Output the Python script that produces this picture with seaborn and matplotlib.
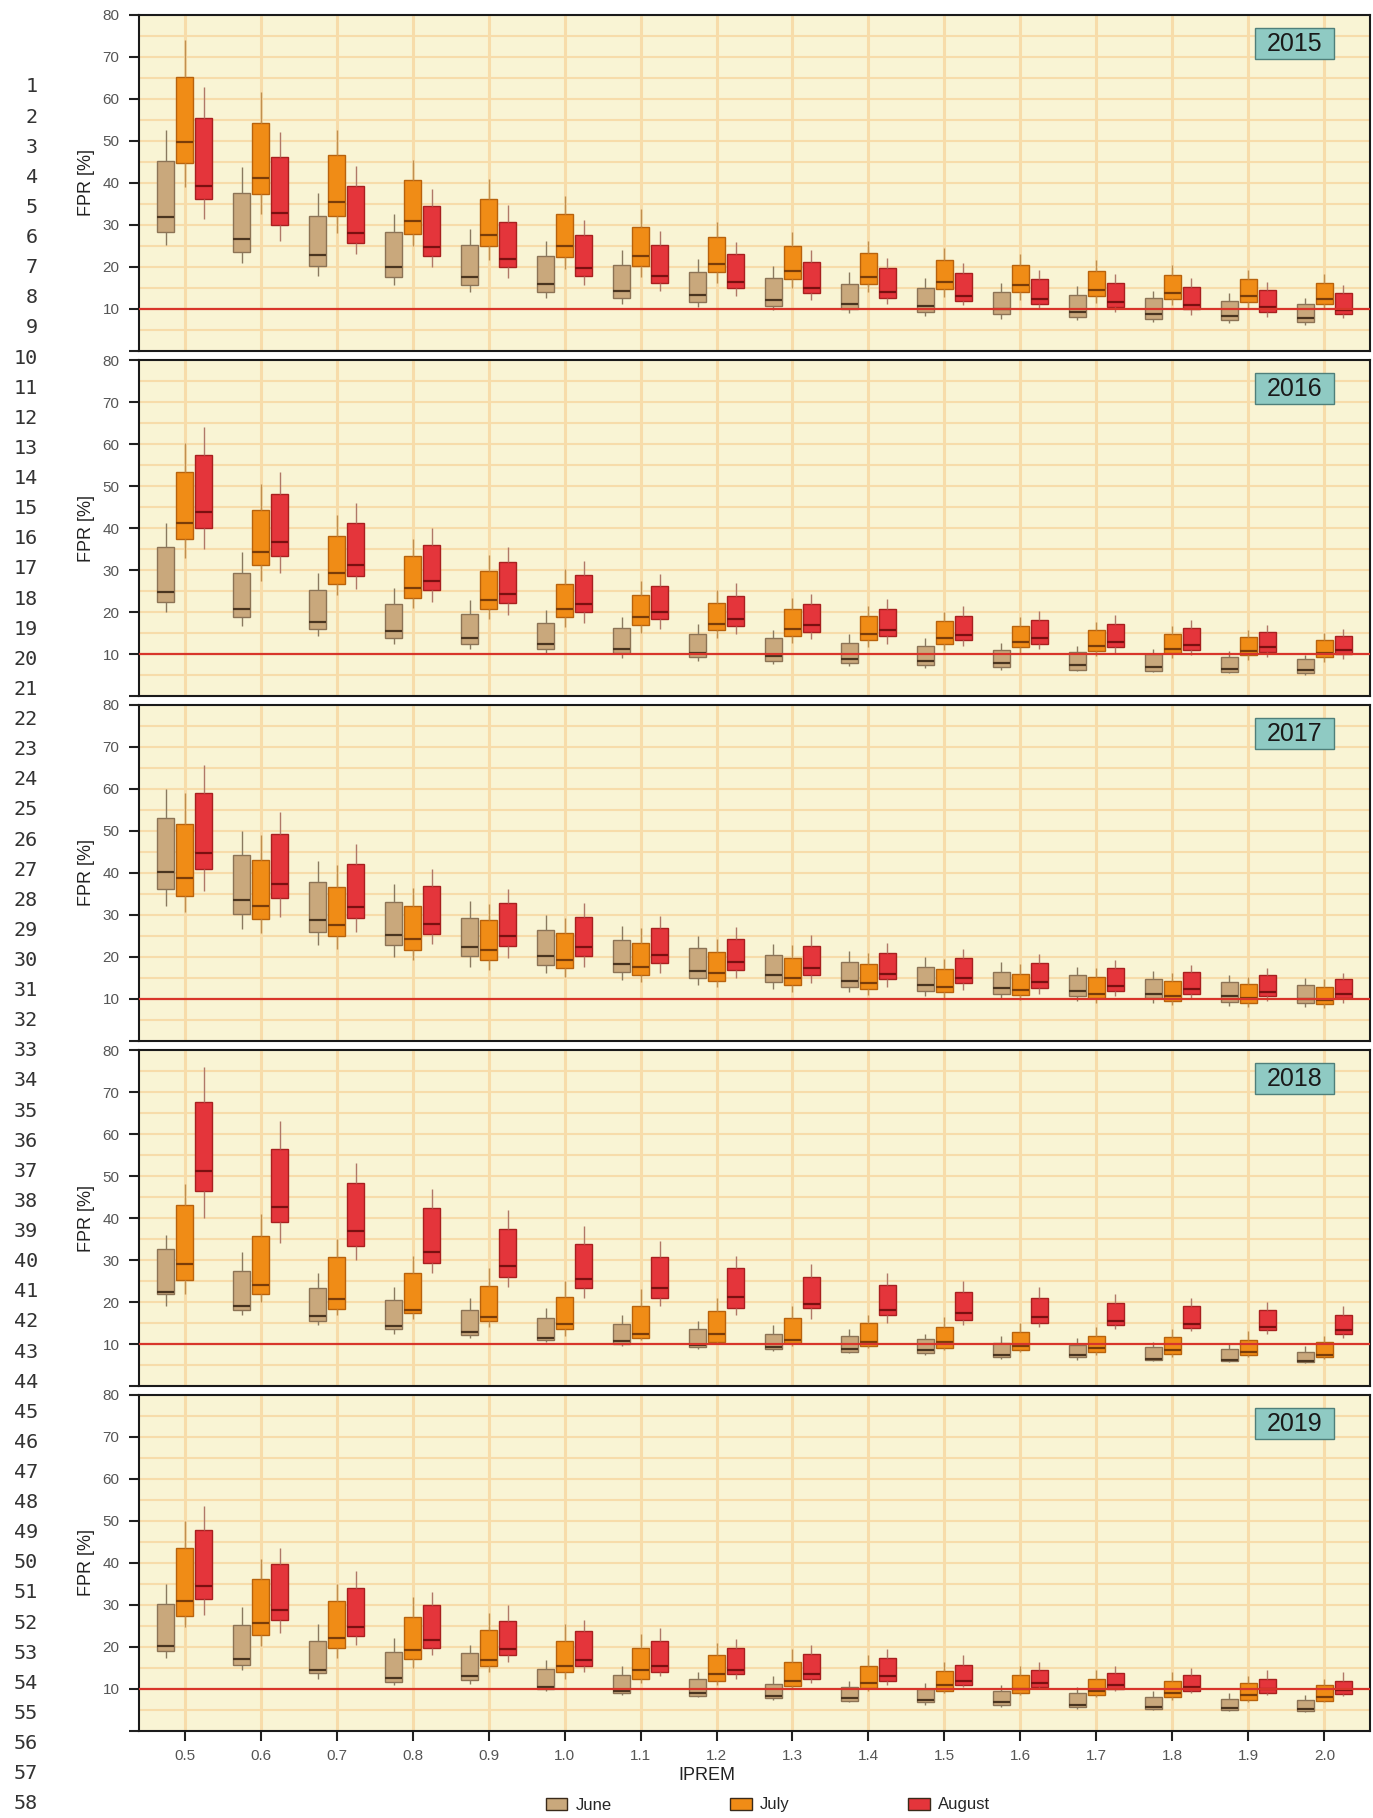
import numpy as np
import pandas as pd
import matplotlib.pyplot as plt
import seaborn as sns
from matplotlib.patches import Patch, Rectangle

ipr = ['0.5', '0.6', '0.7', '0.8', '0.9', '1.0', '1.1', '1.2',
       '1.3', '1.4', '1.5', '1.6', '1.7', '1.8', '1.9', '2.0']
years = ['2015', '2016', '2017', '2018', '2019']
months = ['June', 'July', 'August']

# each entry: (low whisker, q1, median, q3, high whisker) for one IPREM value
jun_2015 = [(25.2, 28.4, 32.0, 45.2, 52.6), (21.0, 23.6, 26.6, 37.5, 43.7), (17.9, 20.2, 22.8, 32.2, 37.5),
            (15.6, 17.7, 19.9, 28.3, 32.6), (14.0, 15.6, 17.7, 25.2, 29.0), (12.5, 14.1, 16.0, 22.5, 26.2),
            (11.3, 12.7, 14.4, 20.4, 24.0), (10.4, 11.7, 13.3, 18.8, 21.8), (9.7, 10.8, 12.2, 17.3, 20.2),
            (9.0, 9.9, 11.3, 16.0, 18.7), (8.3, 9.4, 10.6, 14.9, 17.4), (7.6, 8.7, 9.9, 14.0, 16.3),
            (7.3, 8.2, 9.3, 13.3, 15.4), (7.0, 7.7, 8.8, 12.5, 14.4), (6.6, 7.4, 8.3, 11.9, 13.7),
            (6.3, 7.0, 7.9, 11.1, 12.7)]
jul_2015 = [(39.1, 44.8, 49.8, 65.2, 74.0), (32.6, 37.3, 41.3, 54.3, 61.7), (28.0, 32.1, 35.5, 46.6, 52.5),
            (25.0, 27.9, 31.0, 40.7, 45.5), (21.7, 24.9, 27.5, 36.1, 41.0), (19.5, 22.3, 24.9, 32.5, 37.0),
            (17.7, 20.3, 22.6, 29.5, 33.7), (16.3, 18.7, 20.7, 27.2, 30.8), (14.9, 17.1, 19.0, 25.0, 28.4),
            (14.0, 15.9, 17.7, 23.3, 26.3), (12.9, 14.8, 16.5, 21.6, 24.5), (12.1, 14.0, 15.6, 20.4, 23.1),
            (11.5, 13.1, 14.6, 19.0, 21.6), (11.0, 12.3, 13.8, 18.1, 20.5), (10.3, 11.7, 13.0, 17.1, 19.4),
            (10.0, 11.1, 12.4, 16.1, 18.4)]
aug_2015 = [(31.4, 36.1, 39.4, 55.4, 62.8), (26.2, 30.0, 32.9, 46.2, 52.2), (23.0, 25.6, 28.2, 39.4, 44.0),
            (20.0, 22.5, 24.7, 34.6, 38.5), (17.3, 20.0, 22.0, 30.7, 34.7), (15.7, 17.9, 19.7, 27.6, 31.2),
            (14.3, 16.3, 17.9, 25.2, 28.5), (13.2, 14.9, 16.4, 23.0, 26.0), (12.1, 13.9, 15.1, 21.2, 24.0),
            (11.1, 12.7, 14.1, 19.7, 22.2), (11.0, 11.9, 13.1, 18.5, 20.9), (10.2, 11.1, 12.4, 17.2, 19.3),
            (9.4, 10.5, 11.7, 16.2, 18.3), (8.6, 9.9, 11.0, 15.3, 17.3), (8.2, 9.4, 10.4, 14.5, 16.5),
            (7.8, 8.9, 9.8, 13.7, 15.6)]

jun_2016 = [(19.9, 22.3, 24.8, 35.5, 41.1), (16.7, 18.7, 20.8, 29.4, 34.3), (14.3, 15.9, 17.7, 25.3, 29.2),
            (12.5, 13.9, 15.5, 22.0, 25.6), (11.1, 12.3, 13.8, 19.6, 22.9), (10.2, 11.1, 12.5, 17.5, 20.5),
            (9.1, 10.2, 11.3, 16.1, 18.7), (8.4, 9.2, 10.3, 14.7, 17.1), (7.7, 8.4, 9.5, 13.7, 15.7),
            (7.1, 7.9, 8.9, 12.7, 14.7), (6.6, 7.4, 8.3, 11.9, 13.7), (6.3, 7.0, 7.8, 11.0, 12.7),
            (5.9, 6.3, 7.4, 10.4, 11.9), (5.6, 6.0, 6.8, 10.0, 11.3), (5.4, 5.8, 6.5, 9.4, 10.6),
            (5.0, 5.4, 6.1, 8.9, 9.8)]
jul_2016 = [(32.8, 37.3, 41.3, 53.4, 60.2), (27.5, 31.1, 34.2, 44.4, 50.5), (24.0, 26.7, 29.4, 38.0, 43.0),
            (21.0, 23.4, 25.7, 33.3, 37.5), (18.4, 20.7, 22.9, 29.7, 33.6), (16.5, 18.7, 20.6, 26.6, 30.2),
            (14.9, 17.0, 18.7, 24.1, 27.5), (13.8, 15.6, 17.1, 22.2, 25.2), (12.7, 14.3, 15.9, 20.6, 23.3),
            (11.7, 13.3, 14.8, 19.1, 21.4), (11.0, 12.3, 13.7, 17.9, 20.1), (10.3, 11.6, 12.8, 16.7, 18.9),
            (9.6, 10.8, 12.0, 15.6, 17.7), (9.0, 10.2, 11.3, 14.8, 16.7), (8.6, 9.7, 10.8, 14.0, 15.7),
            (8.2, 9.2, 10.2, 13.3, 14.9)]
aug_2016 = [(35.0, 40.1, 43.8, 57.5, 64.0), (29.2, 33.4, 36.6, 48.0, 53.3), (25.5, 28.6, 31.3, 41.1, 46.0),
            (22.5, 25.2, 27.5, 36.0, 40.0), (19.4, 22.2, 24.3, 32.0, 35.4), (17.5, 20.1, 21.9, 28.7, 32.1),
            (15.9, 18.3, 19.9, 26.1, 29.0), (14.8, 16.7, 18.3, 23.9, 27.0), (13.5, 15.3, 16.8, 22.0, 24.4),
            (12.5, 14.2, 15.6, 20.6, 23.0), (11.9, 13.3, 14.5, 19.1, 21.4), (11.1, 12.5, 13.7, 18.1, 20.2),
            (10.3, 11.7, 12.9, 17.1, 19.3), (9.8, 10.9, 12.1, 16.1, 18.1), (9.4, 10.5, 11.6, 15.2, 16.9),
            (8.7, 10.0, 11.0, 14.3, 16.0)]

jun_2017 = [(32.1, 36.3, 40.3, 53.0, 60.0), (26.7, 30.2, 33.5, 44.2, 50.0), (22.9, 26.0, 28.7, 37.8, 42.9),
            (20.1, 22.8, 25.2, 33.1, 37.5), (17.7, 20.2, 22.4, 29.4, 33.3), (16.1, 18.2, 20.2, 26.4, 30.0),
            (14.6, 16.5, 18.3, 24.1, 27.3), (13.3, 15.1, 16.7, 22.1, 25.0), (12.3, 14.0, 15.6, 20.5, 23.0),
            (11.6, 12.9, 14.4, 18.9, 21.4), (10.7, 12.0, 13.4, 17.6, 19.9), (10.2, 11.3, 12.6, 16.5, 18.7),
            (9.5, 10.7, 11.9, 15.6, 17.7), (9.0, 10.2, 11.2, 14.8, 16.7), (8.3, 9.4, 10.6, 14.0, 15.7),
            (8.0, 9.0, 10.1, 13.3, 14.9)]
jul_2017 = [(30.8, 34.6, 38.7, 51.6, 59.0), (25.6, 29.0, 32.2, 43.0, 49.0), (22.0, 24.9, 27.7, 36.7, 42.0),
            (19.2, 21.7, 24.2, 32.1, 36.5), (16.9, 19.2, 21.6, 28.7, 32.6), (15.3, 17.4, 19.4, 25.7, 29.4),
            (14.0, 15.7, 17.6, 23.3, 26.8), (12.8, 14.4, 16.2, 21.3, 24.2), (11.7, 13.3, 14.9, 19.7, 22.9),
            (11.0, 12.4, 13.8, 18.3, 21.0), (10.3, 11.6, 12.8, 17.1, 19.5), (9.8, 10.9, 12.1, 16.0, 18.3),
            (9.1, 10.2, 11.3, 15.2, 17.3), (8.6, 9.6, 10.8, 14.3, 16.3), (8.0, 9.1, 10.2, 13.5, 15.3),
            (7.8, 8.7, 9.7, 12.9, 14.7)]
aug_2017 = [(35.7, 40.9, 44.7, 59.0, 65.6), (29.6, 34.0, 37.3, 49.2, 54.6), (26.0, 29.2, 32.0, 42.1, 47.0),
            (23.0, 25.5, 27.9, 36.9, 41.0), (19.8, 22.6, 24.9, 32.8, 36.3), (17.7, 20.3, 22.4, 29.5, 32.9),
            (16.1, 18.5, 20.4, 26.8, 29.8), (15.0, 16.9, 18.7, 24.4, 27.2), (13.7, 15.7, 17.3, 22.7, 25.2),
            (12.9, 14.7, 16.0, 21.0, 23.3), (12.1, 13.7, 14.9, 19.7, 21.8), (11.3, 12.7, 14.1, 18.5, 20.6),
            (10.6, 11.9, 13.2, 17.3, 19.3), (10.2, 11.3, 12.5, 16.4, 18.1), (9.5, 10.7, 11.7, 15.6, 17.3),
            (9.0, 10.2, 11.3, 14.8, 16.3)]

jun_2018 = [(19.0, 22.0, 22.5, 32.7, 36.0), (17.0, 18.2, 19.0, 27.3, 32.0), (14.5, 15.5, 16.7, 23.3, 27.0),
            (12.5, 13.5, 14.3, 20.5, 23.5), (11.5, 12.2, 12.8, 18.0, 21.0), (10.5, 11.0, 11.5, 16.2, 18.5),
            (9.5, 10.0, 10.8, 14.7, 17.0), (8.8, 9.3, 9.8, 13.5, 15.5), (8.3, 8.7, 9.3, 12.5, 14.5),
            (7.8, 8.2, 8.8, 11.8, 13.5), (7.3, 7.8, 8.5, 11.2, 12.5), (6.5, 7.0, 7.5, 10.2, 12.0),
            (6.3, 6.8, 7.3, 9.8, 11.5), (6.0, 6.3, 6.5, 9.3, 10.5), (5.8, 6.0, 6.2, 8.8, 10.0),
            (5.5, 5.8, 6.0, 8.2, 9.5)]
jul_2018 = [(22.0, 25.3, 29.0, 43.0, 48.0), (20.0, 22.0, 24.0, 35.8, 41.0), (17.0, 18.3, 20.6, 30.7, 35.0),
            (16.0, 17.3, 18.2, 26.8, 31.0), (14.0, 15.5, 16.5, 23.8, 28.0), (12.0, 13.5, 14.7, 21.3, 25.0),
            (11.0, 11.5, 12.5, 19.0, 23.0), (10.0, 10.5, 12.3, 17.8, 21.0), (9.5, 10.3, 11.0, 16.2, 19.0),
            (9.0, 9.5, 10.5, 15.0, 17.0), (8.5, 9.0, 10.5, 14.0, 16.5), (8.0, 8.5, 9.5, 12.8, 15.0),
            (7.5, 8.0, 9.0, 12.0, 14.0), (7.0, 7.6, 8.5, 11.6, 13.5), (7.0, 7.3, 8.0, 11.0, 13.0),
            (6.5, 7.0, 7.5, 10.5, 12.0)]
aug_2018 = [(40.0, 46.5, 51.3, 67.7, 76.0), (34.0, 39.0, 42.7, 56.5, 63.0), (30.0, 33.3, 36.8, 48.4, 53.0),
            (27.0, 29.3, 32.0, 42.3, 47.0), (23.5, 26.0, 28.5, 37.5, 42.0), (21.0, 23.3, 25.5, 33.8, 38.0),
            (19.0, 21.0, 23.3, 30.7, 34.5), (17.0, 18.5, 21.3, 28.0, 31.0), (16.0, 18.5, 19.5, 26.0, 29.0),
            (15.0, 16.8, 18.2, 24.0, 27.0), (14.5, 15.8, 17.5, 22.5, 25.0), (14.0, 15.0, 16.5, 21.0, 23.5),
            (13.5, 14.5, 15.5, 19.7, 22.0), (13.0, 13.8, 14.8, 19.0, 21.0), (12.5, 13.3, 14.0, 18.0, 20.0),
            (11.5, 12.3, 13.3, 17.0, 19.0)]

jun_2019 = [(17.4, 19.1, 20.3, 30.2, 35.0), (14.5, 15.7, 17.1, 25.2, 29.6), (12.4, 13.7, 14.5, 21.5, 25.5),
            (11.0, 11.7, 12.6, 18.9, 22.1), (11.2, 12.2, 13.0, 18.6, 20.5), (9.5, 10.0, 10.5, 14.8, 17.0),
            (8.5, 9.0, 9.5, 13.3, 15.5), (8.0, 8.3, 9.0, 12.3, 14.0), (7.3, 7.8, 8.3, 11.3, 13.0),
            (6.8, 7.2, 7.8, 10.5, 12.0), (6.3, 6.8, 7.3, 10.0, 11.5), (5.8, 6.2, 6.8, 9.5, 11.0),
            (5.3, 5.8, 6.3, 9.0, 10.5), (5.0, 5.3, 5.8, 8.0, 9.5), (4.8, 5.0, 5.5, 7.7, 9.0),
            (4.5, 4.8, 5.3, 7.3, 8.5)]
jul_2019 = [(24.8, 27.5, 30.9, 43.5, 50.0), (20.2, 22.8, 25.8, 36.3, 41.0), (17.5, 19.7, 22.1, 31.0, 35.0),
            (15.0, 17.2, 19.4, 27.2, 32.0), (14.0, 15.5, 17.0, 24.0, 28.0), (12.5, 14.0, 15.5, 21.5, 25.5),
            (11.5, 12.5, 14.5, 19.8, 23.0), (11.0, 12.0, 13.5, 18.0, 21.0), (10.0, 10.8, 12.0, 16.5, 19.5),
            (9.5, 10.3, 11.5, 15.5, 18.0), (9.0, 9.5, 11.0, 14.3, 16.5), (8.5, 9.0, 10.0, 13.3, 15.5),
            (8.0, 8.5, 9.5, 12.5, 14.5), (7.5, 8.0, 9.0, 12.0, 14.0), (7.0, 7.5, 8.5, 11.5, 13.0),
            (6.8, 7.2, 8.0, 11.0, 12.5)]
aug_2019 = [(27.6, 31.5, 34.5, 47.8, 53.5), (23.3, 26.4, 28.8, 39.7, 43.5), (20.5, 22.6, 24.7, 34.0, 38.0),
            (18.0, 19.7, 21.6, 30.0, 33.0), (16.5, 18.0, 19.5, 26.3, 30.0), (14.0, 15.5, 17.0, 23.8, 26.5),
            (13.0, 14.0, 15.5, 21.5, 24.5), (12.5, 13.5, 14.5, 19.8, 22.0), (11.5, 12.5, 13.5, 18.3, 20.5),
            (11.0, 12.0, 13.0, 17.3, 19.5), (10.5, 11.0, 12.0, 15.8, 18.0), (10.0, 10.5, 11.5, 14.5, 16.5),
            (9.5, 10.0, 11.0, 13.8, 15.5), (9.0, 9.5, 10.5, 13.3, 15.0), (8.5, 9.0, 10.0, 12.5, 14.5),
            (8.3, 8.8, 9.8, 12.0, 14.0)]

series = {
    '2015': (jun_2015, jul_2015, aug_2015),
    '2016': (jun_2016, jul_2016, aug_2016),
    '2017': (jun_2017, jul_2017, aug_2017),
    '2018': (jun_2018, jul_2018, aug_2018),
    '2019': (jun_2019, jul_2019, aug_2019),
}

# five values per box -> quantiles 0/25/50/75/100 reproduce the summary exactly
rows = []
for year in years:
    for month, boxes in zip(months, series[year]):
        for x, stats in zip(ipr, boxes):
            for v in stats:
                rows.append((year, month, x, v))
df = pd.DataFrame(rows, columns=['year', 'month', 'ipr', 'fpr'])

face = {'June': '#C9A87C', 'July': '#F08C16', 'August': '#E4353B'}
edge = {'June': '#8C7355', 'July': '#B8620C', 'August': '#A82020'}
med = {'June': '#4A3520', 'July': '#7A3C08', 'August': '#7A1010'}
whisk = {'June': '#8A7A60', 'July': '#C09050', 'August': '#B07868'}
bg = '#F9F4D4'
gridc = '#F7DCAA'

sns.set_style('ticks')
plt.rcParams['font.family'] = ['Liberation Sans', 'DejaVu Sans']

W, H = 1373, 1818
fig = plt.figure(figsize=(W / 100, H / 100), dpi=100)

for k, year in enumerate(years):
    top = 15 + 345 * k
    ax = fig.add_axes([139 / W, 1 - (top + 336) / H, 1231 / W, 336 / H])
    ax.set_facecolor(bg)
    sub = df[df['year'] == year]
    for month in months:
        sns.boxplot(data=sub[sub['month'] == month], x='ipr', y='fpr', hue='month',
                    order=ipr, hue_order=months, palette=face, dodge=True,
                    width=0.75, gap=0.1, whis=(0, 100), showcaps=False, showfliers=False,
                    saturation=1, linewidth=1, linecolor=edge[month],
                    medianprops=dict(color=med[month], linewidth=1.6),
                    whiskerprops=dict(color=whisk[month], linewidth=1),
                    legend=False, ax=ax)

    ax.set_xlim(-0.6, 15.6)
    ax.set_ylim(0, 80)
    ax.set_yticks(range(0, 81, 10))
    ax.set_yticklabels([''] + [str(v) for v in range(10, 81, 10)])
    ax.set_yticks(np.arange(5, 80, 10), minor=True)
    ax.set_axisbelow(True)
    ax.grid(axis='x', color=gridc, lw=2.2)
    ax.grid(axis='y', which='both', color=gridc, lw=1.5)
    ax.axhline(10, color='#D8352A', lw=1.6, zorder=3)

    for s in ax.spines.values():
        s.set_color('#1A1A1A')
        s.set_linewidth(1.5)
    ax.tick_params(axis='y', which='major', length=7, width=1.5, color='#222222',
                   labelsize=11, labelcolor='#555555', pad=7)
    ax.tick_params(axis='y', which='minor', length=0)
    ax.set_ylabel('FPR [%]', fontsize=13, color='#222222')
    ax.yaxis.set_label_coords(-0.036, 0.5)
    ax.set_xlabel('')

    if k < len(years) - 1:
        ax.tick_params(axis='x', length=0, labelbottom=False)
    else:
        ax.tick_params(axis='x', length=7, width=1.5, color='#222222',
                       labelsize=11, labelcolor='#555555', pad=6)

    ax.add_patch(Rectangle((0.9066, 0.869), 0.0642, 0.0923, transform=ax.transAxes,
                           facecolor='#8FCAC3', edgecolor='#4F7F7A', lw=1, zorder=5))
    ax.text(0.9387, 0.915, year, transform=ax.transAxes, ha='center', va='center',
            fontsize=18, color='#1A1A1A', zorder=6)

fig.text(707 / W, 1 - 1775 / H, 'IPREM', ha='center', va='center', fontsize=13, color='#222222')

handles = [Patch(facecolor=face[m], edgecolor='#3A2A1A', lw=1) for m in months]
fig.legend(handles, months, loc='center', bbox_to_anchor=(768 / W, 1 - 1805 / H), ncol=3,
           frameon=False, fontsize=12, handlelength=1.3, handleheight=0.75,
           handletextpad=0.5, columnspacing=7.1)

for n in range(1, 59):
    fig.text(38 / W, 1 - (87 + (n - 1) * 30.12) / H, str(n), ha='right', va='center',
             family='DejaVu Sans Mono', fontsize=14.5, color='#333333')

fig.savefig('out.png', dpi=100)
